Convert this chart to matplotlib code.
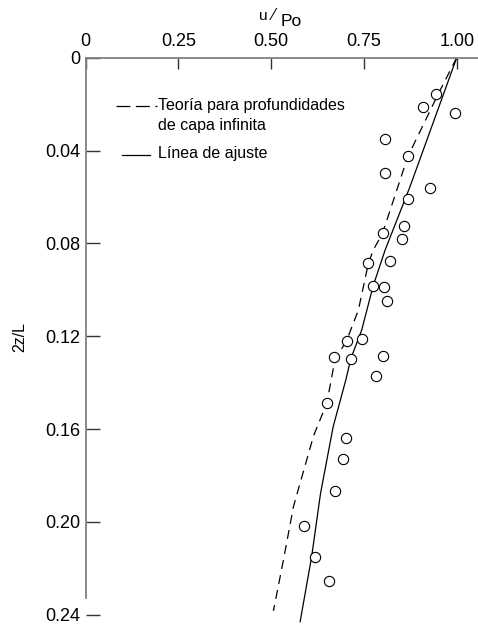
import matplotlib.pyplot as plt
from matplotlib.lines import Line2D

plt.rcParams['font.family'] = ['Liberation Sans', 'DejaVu Sans']
plt.rcParams['lines.scale_dashes'] = False

# datos medidos (u/Po, 2z/L)
obs_u = [0.943, 0.909, 0.996, 0.808, 0.869, 0.807, 0.927, 0.870, 0.857, 0.800,
         0.853, 0.761, 0.819, 0.774, 0.803, 0.812, 0.703, 0.746, 0.668, 0.715,
         0.800, 0.782, 0.650, 0.702, 0.694, 0.673, 0.588, 0.618, 0.657]
obs_z = [0.0155, 0.0211, 0.0240, 0.0352, 0.0422, 0.0495, 0.0561, 0.0607, 0.0725, 0.0754,
         0.0780, 0.0883, 0.0876, 0.0984, 0.0987, 0.1050, 0.1219, 0.1213, 0.1290, 0.1297,
         0.1285, 0.1370, 0.1488, 0.1638, 0.1730, 0.1867, 0.2018, 0.2151, 0.2256]

# linea de ajuste
fit_u = [1.000, 0.874, 0.807, 0.775, 0.744, 0.715, 0.701, 0.667, 0.633, 0.609, 0.578]
fit_z = [0.000, 0.0556, 0.0829, 0.0982, 0.1173, 0.1295, 0.1389, 0.159, 0.1877, 0.215, 0.243]

# teoria, capa infinita
teo_u = [1.000, 0.950, 0.868, 0.800, 0.775, 0.762, 0.735, 0.703, 0.672, 0.650,
         0.614, 0.582, 0.560, 0.533, 0.506]
teo_z = [0.000, 0.0157, 0.0427, 0.0757, 0.0829, 0.0886, 0.1087, 0.1220, 0.1300, 0.1488,
         0.1630, 0.1810, 0.1934, 0.2164, 0.2383]

x_ticks = [0, 0.25, 0.50, 0.75, 1.00]
x_labels = ['0', '0.25', '0.50', '0.75', '1.00']
y_ticks = [0, 0.04, 0.08, 0.12, 0.16, 0.20, 0.24]
y_labels = ['0', '0.04', '0.08', '0.12', '0.16', '0.20', '0.24']

W, H = 478, 627
fig = plt.figure(figsize=(W / 100, H / 100), dpi=100)
ax = fig.add_axes([85.7 / W, 0, 1 - 85.7 / W, 1 - 57.7 / H])

ax.plot(teo_u, teo_z, color='black', lw=0.9, dashes=(6.5, 4.5))
ax.plot(fit_u, fit_z, color='black', lw=0.9)
ax.plot(obs_u, obs_z, 'o', ms=7.4, mfc='white', mec='black', mew=0.8, zorder=3)

ax.set_xlim(0, (W - 85.7) / 371)
ax.set_ylim((H - 57.7) / 2321, 0)

ax.xaxis.tick_top()
ax.set_xticks(x_ticks, x_labels)
ax.set_yticks(y_ticks, y_labels)
ax.tick_params(axis='x', direction='in', length=7.7, width=1, color='#333333',
               labelsize=13, pad=5.5)
ax.tick_params(axis='y', direction='in', length=9.8, width=1, color='#333333',
               labelsize=13, pad=4)

for s in ['right', 'bottom']:
    ax.spines[s].set_visible(False)
for s in ['top', 'left']:
    ax.spines[s].set_color('#808080')
    ax.spines[s].set_linewidth(1.3)
ax.spines['left'].set_bounds(0, 0.2327)

# leyenda
ax.add_line(Line2D([0.082, 0.192], [0.0210, 0.0210], color='black', lw=0.9,
                   dashes=(10, 4)))
ax.add_line(Line2D([0.097, 0.174], [0.0420, 0.0420], color='black', lw=0.9))
ax.text(0.195, 0.0204, 'Teoría para profundidades', fontsize=11.5, va='center', ha='left')
ax.text(0.195, 0.0290, 'de capa infinita', fontsize=11.5, va='center', ha='left')
ax.text(0.195, 0.0411, 'Línea de ajuste', fontsize=11.5, va='center', ha='left')

# titulos de ejes
fig.text(263 / W, 1 - 16.5 / H, 'u', fontsize=11, ha='center', va='center')
fig.text(273.5 / W, 1 - 16 / H, '\u2044', fontsize=11, ha='center', va='center',
         family='DejaVu Sans')
fig.text(281 / W, 1 - 21 / H, 'Po', fontsize=12.5, ha='left', va='center')
fig.text(20 / W, 1 - 337 / H, '2z/L', fontsize=11.5, rotation=90, ha='center', va='center')

fig.savefig('out.png', dpi=100)
